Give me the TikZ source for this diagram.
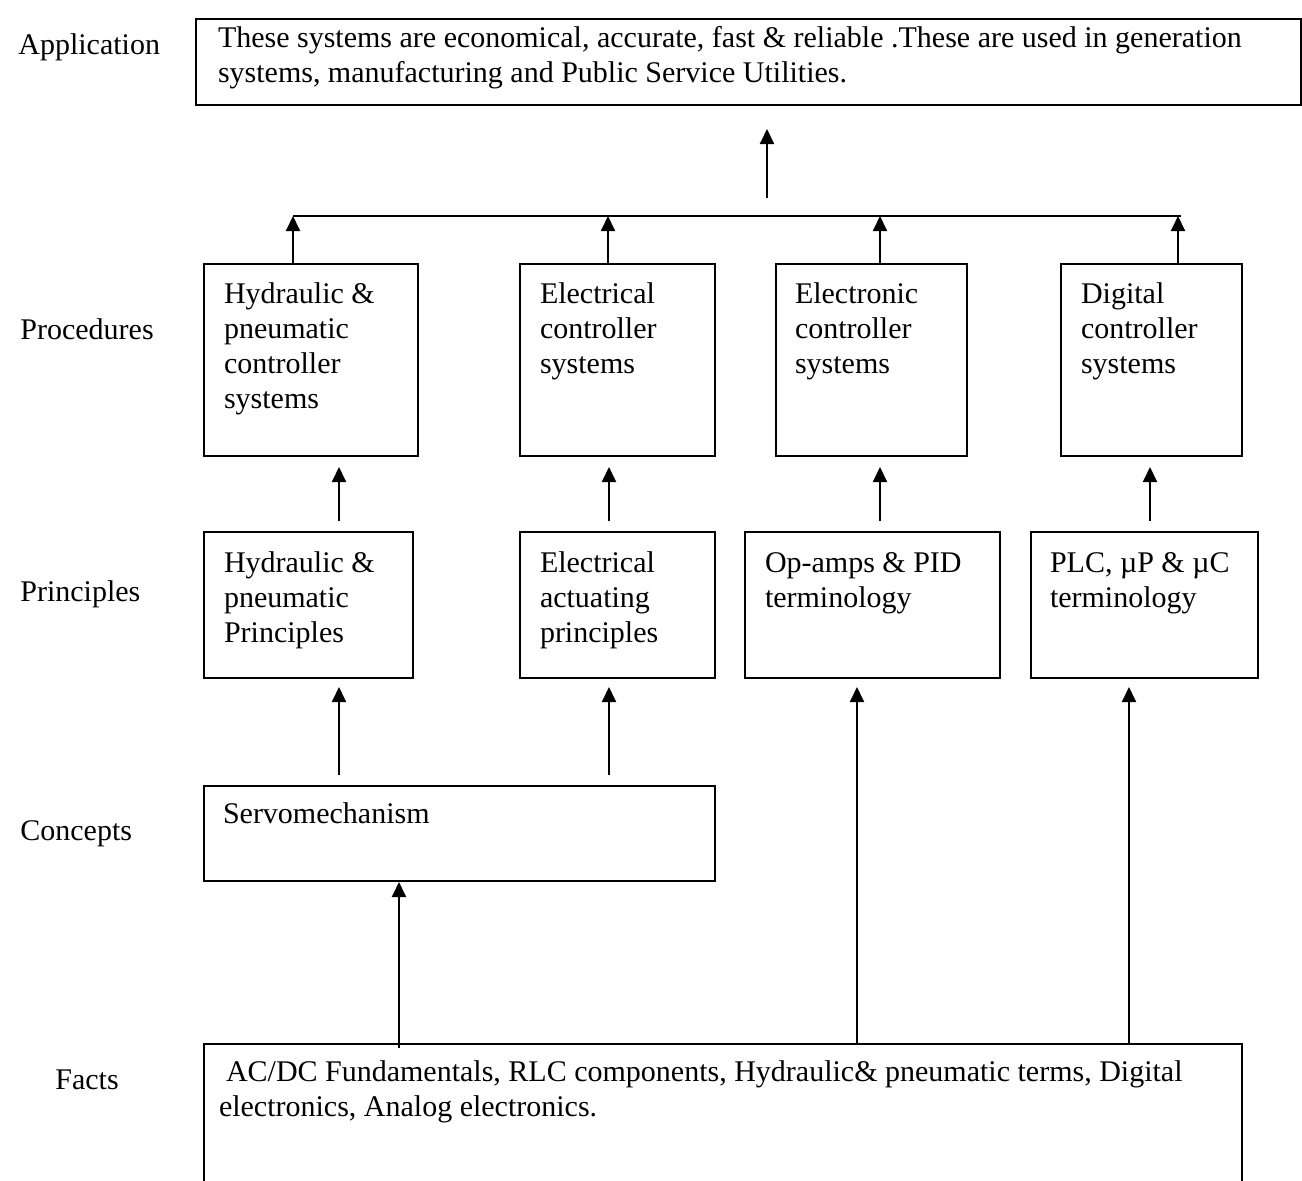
\documentclass[tikz,border=0pt]{standalone}
\usepackage{fontspec}
\setmainfont{Liberation Serif}
\usetikzlibrary{arrows.meta,calc}
\newcommand\bxtext[4]{\parbox[t][#2][t]{#1}{\raggedright\rule{0pt}{#3}#4}}
\begin{document}
\begin{tikzpicture}[x=0.5pt,y=-0.5pt,
  every node/.style={font=\fontsize{15pt}{17.5pt}\selectfont},
  bx/.style={draw, line width=1pt, inner sep=0pt, anchor=north west},
  lbl/.style={anchor=base west, inner sep=0pt},
  arr/.style={line width=1pt, -{Triangle[width=7pt,length=7.5pt]}},
  ln/.style={line width=1pt}]
\useasboundingbox (0,0) rectangle (1302,1180);
\begin{scope}
\clip (0,0) rectangle (1302,1180);
% labels
\node[lbl] (lapp) at (18,54) {Application};
\node[lbl] (lproc) at (20,339) {Procedures};
\node[lbl] (lprin) at (20,601) {Principles};
\node[lbl] (lcon) at (20,840) {Concepts};
\node[lbl] (lfact) at (55,1089) {Facts};
% application box
\node[bx] (app) at (195,18) {\hspace{11pt}\bxtext{541.5pt}{43pt}{14pt}{These systems are economical, accurate, fast \& reliable .These are used in generation systems, manufacturing and Public Service Utilities.}};
% procedures
\node[bx] (pc1) at (203,263) {\hspace{10pt}\bxtext{97pt}{96pt}{19.5pt}{Hydraulic \& pneumatic controller systems}};
\node[bx] (pc2) at (519,263) {\hspace{10pt}\bxtext{87.5pt}{96pt}{19.5pt}{Electrical controller systems}};
\node[bx] (pc3) at (775,263) {\hspace{9.5pt}\bxtext{86pt}{96pt}{19.5pt}{Electronic controller systems}};
\node[bx] (pc4) at (1060,263) {\hspace{10pt}\bxtext{80.5pt}{96pt}{19.5pt}{Digital controller systems}};
% principles
\node[bx] (pr1) at (203,531) {\hspace{10pt}\bxtext{94.5pt}{73pt}{20pt}{Hydraulic \& pneumatic Principles}};
\node[bx] (pr2) at (519,531) {\hspace{10pt}\bxtext{87.5pt}{73pt}{20pt}{Electrical actuating principles}};
\node[bx] (pr3) at (744,531) {\hspace{10pt}\bxtext{117.5pt}{73pt}{20pt}{Op-amps \& PID terminology}};
\node[bx] (pr4) at (1030,531) {\hspace{9.5pt}\bxtext{104pt}{73pt}{20pt}{PLC, µP \& µC terminology}};
% concepts
\node[bx] (con) at (203,785) {\hspace{9.5pt}\bxtext{246pt}{47.5pt}{18.5pt}{Servomechanism}};
% facts
\node[bx] (fact) at (203,1043) {\hspace{7.5pt}\bxtext{511.5pt}{100pt}{18.5pt}{\hspace{3.5pt}AC/DC Fundamentals, RLC components, Hydraulic\& pneumatic terms, Digital electronics, Analog electronics.}};
% bus
\coordinate (busl) at (293,216);
\coordinate (busr) at (1181,216);
\coordinate (upb) at (767,198);
\draw[ln] (busl) -- (busr);
\draw[arr] (upb) -- (upb |- app.south) [shorten >=11.5pt];
\draw[arr] ([xshift=45pt]pc1.north west) -- ([xshift=45pt]pc1.north west |- busl);
\draw[arr] ([xshift=44.5pt]pc2.north west) -- ([xshift=44.5pt]pc2.north west |- busl);
\draw[arr] ([xshift=52.5pt]pc3.north west) -- ([xshift=52.5pt]pc3.north west |- busl);
\draw[arr] ([xshift=59pt]pc4.north west) -- ([xshift=59pt]pc4.north west |- busl);
% principles -> procedures
\draw[arr, shorten <=5pt, shorten >=5pt] ([xshift=68pt]pr1.north west) -- ([xshift=68pt]pr1.north west |- pc1.south);
\draw[arr, shorten <=5pt, shorten >=5pt] ([xshift=45pt]pr2.north west) -- ([xshift=45pt]pr2.north west |- pc2.south);
\draw[arr, shorten <=5pt, shorten >=5pt] ([xshift=68pt]pr3.north west) -- ([xshift=68pt]pr3.north west |- pc3.south);
\draw[arr, shorten <=5pt, shorten >=5pt] ([xshift=60pt]pr4.north west) -- ([xshift=60pt]pr4.north west |- pc4.south);
% concept -> principles
\draw[arr, shorten <=5pt, shorten >=4pt] ([xshift=68pt]pr1.south west |- con.north) -- ([xshift=68pt]pr1.south west);
\draw[arr, shorten <=5pt, shorten >=4pt] ([xshift=45pt]pr2.south west |- con.north) -- ([xshift=45pt]pr2.south west);
% facts -> concept, principles
\draw[arr, shorten <=-2.5pt] ([xshift=98pt]fact.north west) -- ([xshift=98pt]fact.north west |- con.south);
\draw[arr, shorten >=4pt] ([xshift=327pt]fact.north west) -- ([xshift=327pt]fact.north west |- pr3.south);
\draw[arr, shorten >=4pt] ([xshift=463pt]fact.north west) -- ([xshift=463pt]fact.north west |- pr4.south);
\end{scope}
\end{tikzpicture}
\end{document}
